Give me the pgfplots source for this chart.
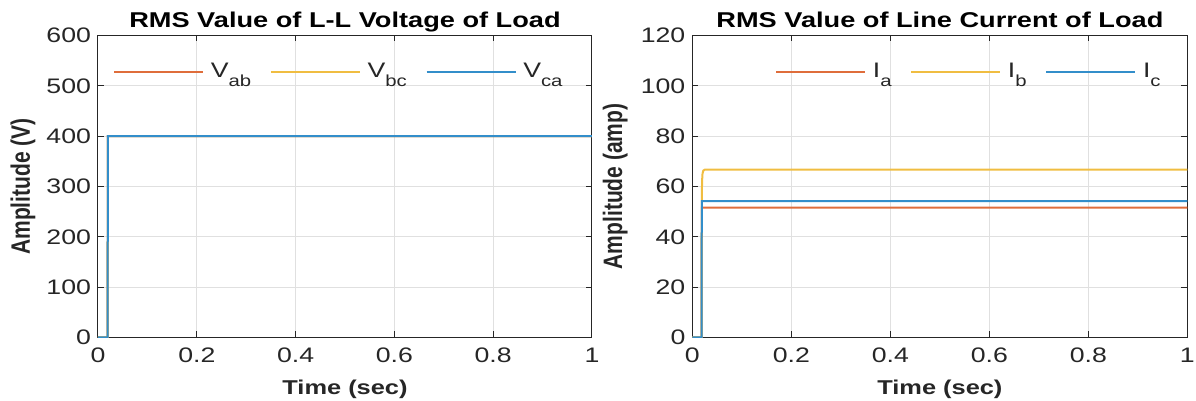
\documentclass[border=0pt]{standalone}
\usepackage{fontspec}
\setmainfont{Liberation Sans}[FakeStretch=1.27]
\newfontfamily\vfont{Liberation Sans}
\usepackage{pgfplots}
\pgfplotsset{compat=1.18}

\definecolor{mred}{rgb}{0.85,0.325,0.098}
\definecolor{myel}{rgb}{0.929,0.694,0.125}
\definecolor{mblue}{rgb}{0,0.447,0.741}
\definecolor{axgray}{rgb}{0.15,0.15,0.15}
\colorlet{cred}{mred!85!white}
\colorlet{cyel}{myel!85!white}
\colorlet{cblue}{mblue!80!white}

\newcommand{\sub}[1]{\raisebox{-4.5pt}{\fontsize{8}{8}\selectfont #1}}
\newcommand{\vlabel}[1]{{\vfont\bfseries\fontsize{10.5}{12}\selectfont\scalebox{1}[1.27]{#1}}}

\pgfplotsset{
  scopestyle/.style={
    scale only axis,
    width=247pt, height=151pt,
    xmin=0, xmax=1, ymin=0,
    grid=major,
    grid style={black!12, line width=0.5pt},
    tick align=inside,
    major tick length=3pt,
    axis line style={axgray, line width=0.5pt},
    tick style={axgray, line width=0.5pt},
    xtick={0,0.2,0.4,0.6,0.8,1},
    xticklabels={0,0.2,0.4,0.6,0.8,1},
    /pgf/number format/assume math mode=true,
    ticklabel style={font=\fontsize{10.5}{12}\selectfont, text=axgray},
    xticklabel style={yshift=-1.5pt},
    xlabel={Time (sec)},
    xlabel style={font=\bfseries\fontsize{10}{12}\selectfont, text=axgray,
      at={(axis description cs:0.5,0)}, anchor=base, yshift=-28.75pt},
    ylabel style={at={(axis description cs:-0.152,0.5)}, anchor=center, text=axgray},
    title style={font=\bfseries\fontsize{10.7}{12}\selectfont,
      at={(axis description cs:0.5,1)}, anchor=base, yshift=-2pt},
    legend style={draw=none, fill=none, inner sep=0pt,
      font=\fontsize{10.5}{12}\selectfont, text=axgray,
      nodes={inner sep=0pt},
      /tikz/every odd column/.append style={column sep=3.5pt},
      /tikz/every even column/.append style={column sep=9.5pt}},
    legend columns=3,
    legend cell align=left,
    every axis plot/.append style={line width=1pt},
    legend image code/.code={\draw[#1, line width=0.7pt] (0pt,0pt) -- (44.5pt,0pt);},
  }
}

\begin{document}
\begin{tikzpicture}
\useasboundingbox (0,0) rectangle (598pt,200.5pt);

% line-to-line voltage
\begin{axis}[scopestyle,
  at={(49pt,31.75pt)}, anchor=south west,
  ymax=600, ytick={0,100,...,600},
  ylabel={\vlabel{Amplitude (V)}},
  title={RMS Value of L-L Voltage of Load},
  legend style={at={(0.0304,0.879)}, anchor=west},
]
\addplot[cred] coordinates {(0,0) (0.0195,0) (0.02,400) (1,400)};
\addplot[cyel] coordinates {(0,0) (0.0195,0) (0.02,400) (1,400)};
\addplot[cblue] coordinates {(0,0) (0.0195,0) (0.02,400) (1,400)};
\legend{V\sub{ab},V\sub{bc},V\sub{ca}}
\end{axis}

% line currents
\begin{axis}[scopestyle,
  at={(346.2pt,31.75pt)}, anchor=south west,
  width=247.5pt,
  ymax=120, ytick={0,20,...,120},
  ylabel={\vlabel{Amplitude (amp)}},
  ylabel style={at={(axis description cs:-0.156,0.5)}},
  title={RMS Value of Line Current of Load},
  legend style={at={(0.167,0.879)}, anchor=west},
]
\addplot[cred] coordinates {(0,0) (0.0185,0) (0.019,51.6) (1,51.6)};
\addplot[cyel] coordinates {(0,0) (0.0185,0) (0.019,54) (0.0195,62) (0.0205,65.2) (0.022,66.3) (0.025,66.7) (1,66.7)};
\addplot[cblue] coordinates {(0,0) (0.0185,0) (0.019,54.2) (1,54.2)};
\legend{I\sub{a},I\sub{b},I\sub{c}}
\end{axis}
\end{tikzpicture}
\end{document}
